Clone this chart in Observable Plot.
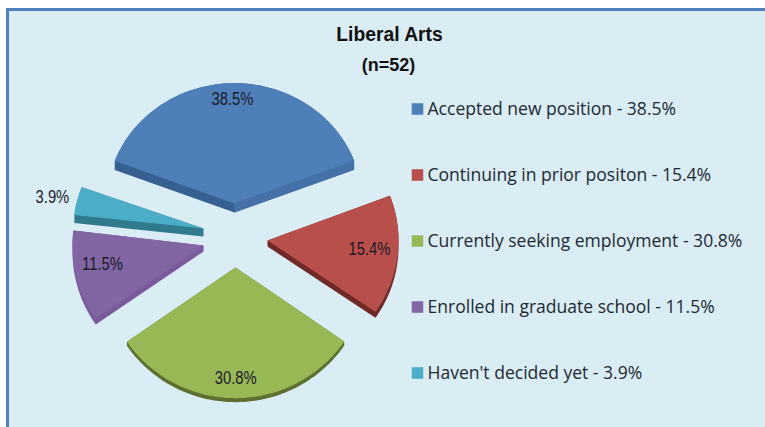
<!DOCTYPE html>
<html><head><meta charset="utf-8">
<script src="https://cdn.jsdelivr.net/npm/d3@7"></script>
<script src="https://cdn.jsdelivr.net/npm/@observablehq/plot@0.6"></script>
<style>html,body{margin:0;padding:0;background:#fff}svg{display:block}</style>
</head><body>
<div id="chart"></div>
<script>
const title = "Liberal Arts";
const subtitle = "(n=52)";
const categories = ["Accepted new position","Continuing in prior positon","Currently seeking employment","Enrolled in graduate school","Haven't decided yet"];
const values = [38.5,15.4,30.8,11.5,3.9];
const legendLabels = ["Accepted new position - 38.5%","Continuing in prior positon - 15.4%","Currently seeking employment - 30.8%","Enrolled in graduate school - 11.5%","Haven't decided yet - 3.9%"];
const colors = ["#4f7fb9","#b94f4a","#98b855","#8265a3","#4baec6"];
const wallColors = ["#36608f","#6f2a28","#5c7030","#7a5a9c","#2f7a8c"];

// Layout of the exploded, tilted pie (pixels)
const apexX = [234,267,235,203,203], apexY = [203,240,267,245,228];
const radius = [128,131,132,131,130], squash = [0.94,0.96,0.99,0.98,0.9];
const depth = [9,6,4,6,8];
const labelFrac = [0.88,0.83,0.83,0.74,1.22];
const labelDx = [-2,-6,0,-7,3], labelDy = [2,-4,2,-4,3];
const startAngle = -69.3; // degrees clockwise from 12 o'clock

const total = d3.sum(values);
let acc = startAngle;
const slices = values.map((v,i)=>{ const a0=acc; acc+=v/total*360; return {i,a0,a1:acc}; });
const P = (s,f,a)=>{const t=a*Math.PI/180,i=s.i;return [apexX[i]+f*radius[i]*Math.sin(t),apexY[i]-f*radius[i]*squash[i]*Math.cos(t)];};
const outline = s=>{const pts=[[apexX[s.i],apexY[s.i]]];const n=60;for(let k=0;k<=n;k++)pts.push(P(s,1,s.a0+(s.a1-s.a0)*k/n));return pts;};

const rows=[]; let id=0;
const add=(pts,color)=>{id++;pts.forEach(p=>rows.push({id,x:p[0],y:p[1],color}));};
slices.forEach(s=>{
  const o=outline(s),d=depth[s.i];
  add(d3.polygonHull(o.concat(o.map(p=>[p[0],p[1]+d]))),wallColors[s.i]);
});
{const s=slices[0],d=depth[0],a=[apexX[0],apexY[0]],b=P(s,1,s.a1);
 add([a,b,[b[0],b[1]+d],[a[0],a[1]+d]],"#4571a8");}
slices.forEach(s=>add(outline(s),colors[s.i]));

const labels=slices.map(s=>{const [x,y]=P(s,labelFrac[s.i],(s.a0+s.a1)/2);return {x:x+labelDx[s.i],y:y+labelDy[s.i],t:values[s.i].toFixed(1)+"%"};});
const legendX=411, legendY0=108.5, legendStep=66;
const legend=legendLabels.map((t,i)=>({t,i,y:legendY0+i*legendStep,c:colors[i]}));

const chart=Plot.plot({
  width:765,height:427,margin:0,
  style:{background:"#ffffff",overflow:"hidden"},
  x:{domain:[0,765],range:[0,765],axis:null},
  y:{domain:[0,427],range:[0,427],axis:null},
  color:{type:"identity"},
  marks:[
    Plot.rect([0],{x1:6,x2:765,y1:8,y2:427,fill:"#4f81bd"}),
    Plot.rect([0],{x1:9,x2:765,y1:11,y2:427,fill:"#daecf4"}),
    Plot.line(rows,{x:"x",y:"y",z:"id",fill:"color",stroke:null,curve:"linear"}),
    Plot.text(labels,{x:"x",y:"y",text:"t",fontFamily:"Liberation Sans",fontSize:18,fill:"#1a1a2a",className:"narrow82"}),
    Plot.dot(legend,{x:legendX+6,y:"y",r:6.5,symbol:"square",fill:"c",stroke:null}),
    Plot.text(legend,{x:legendX+16,y:"y",text:"t",textAnchor:"start",fontFamily:"Open Sans",fontSize:17.55,fill:"#222a33"}),
    Plot.text([title],{x:389,y:34.5,text:d=>d,fontFamily:"Liberation Sans",fontWeight:"bold",fontSize:20,fill:"#111",className:"narrow96"}),
    Plot.text([subtitle],{x:388,y:65,text:d=>d,fontFamily:"Liberation Sans",fontWeight:"bold",fontSize:18,fill:"#111",className:"narrow98"})
  ]
});
document.getElementById("chart").append(chart);
// Condense the text that is set in a narrow face in the original
[["narrow82",0.82],["narrow96",0.965],["narrow98",1.0]].forEach(([c,k])=>{
  chart.querySelectorAll("."+c+" text").forEach(t=>{
    t.setAttribute("textLength",t.getComputedTextLength()*k);
    t.setAttribute("lengthAdjust","spacingAndGlyphs");
  });
});
</script>
</body></html>
